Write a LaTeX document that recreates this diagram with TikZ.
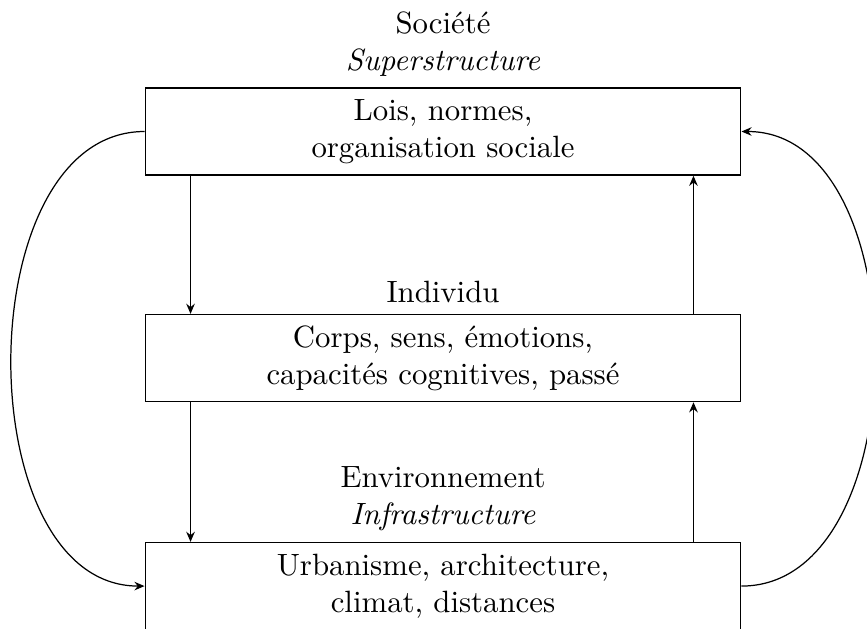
\documentclass[tikz,border=0pt]{standalone}
\usetikzlibrary{arrows.meta}
\begin{document}
\begin{tikzpicture}[
  box/.style={draw, minimum width=6.8cm, minimum height=0.995cm, align=center, inner sep=3.33pt},
  lab/.style={align=center, anchor=south, inner sep=3.33pt},
  arr/.style={-{Stealth[length=3.3pt,width=2.8pt,inset=1.1pt]}}
]
\useasboundingbox (0,0) rectangle (9.897,-7.169);
\node[box] (soc) at (5.057,-1.501) {Lois, normes,\\organisation sociale};
\node[box] (ind) at (5.057,-4.087) {Corps, sens, émotions,\\capacités cognitives, passé};
\node[box] (env) at (5.057,-6.69) {Urbanisme, architecture,\\climat, distances};
\node[lab] (socl) at (soc.north) {Société\\\textit{Superstructure}};
\node[lab] (indl) at (ind.north) {Individu};
\node[lab] (envl) at (env.north) {Environnement\\\textit{Infrastructure}};
\draw[arr] ([xshift=0.525cm]soc.south west) -- ([xshift=0.525cm]ind.north west);
\draw[arr] ([xshift=0.525cm]ind.south west) -- ([xshift=0.525cm]env.north west);
\draw[arr] ([xshift=-0.548cm]ind.north east) -- ([xshift=-0.548cm]soc.south east);
\draw[arr] ([xshift=-0.548cm]env.north east) -- ([xshift=-0.548cm]ind.south east);
\draw[arr] (soc.west) to[out=180,in=180] (env.west);
\draw[arr] (env.east) to[out=0,in=0] (soc.east);
\end{tikzpicture}
\end{document}
